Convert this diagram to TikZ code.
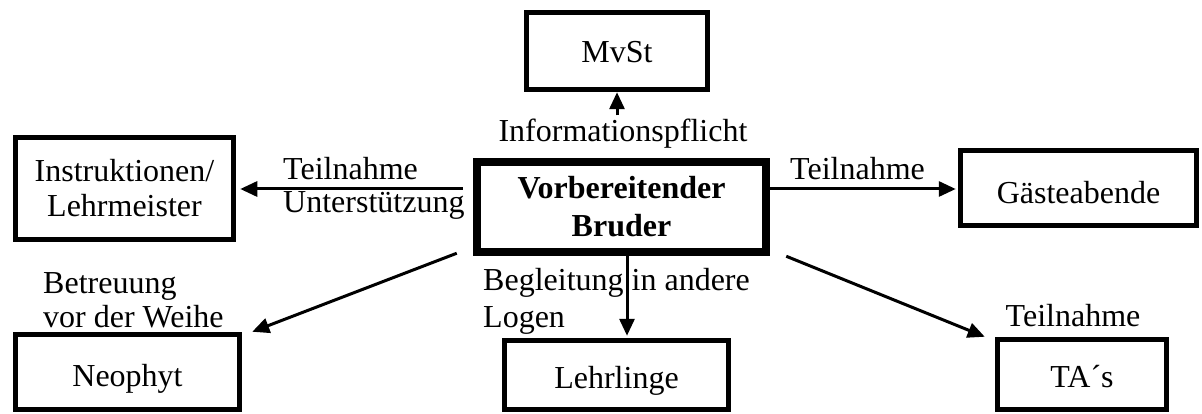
\documentclass[tikz,border=0pt]{standalone}
\usepackage{fontspec}
\setmainfont{Liberation Serif}
\usetikzlibrary{arrows.meta}
\begin{document}
\begin{tikzpicture}[x=1pt,y=-1pt,
  box/.style={draw, line width=5.5pt, inner sep=0pt, align=center,
              font=\fontsize{32}{35}\selectfont},
  mainbox/.style={box, line width=8.5pt, font=\fontsize{32}{38}\selectfont\bfseries},
  txt/.style={text height=#1, text depth=0pt},
  lbl/.style={inner sep=0pt, align=left, font=\fontsize{32}{34}\selectfont},
  arr/.style={line width=3pt, -{Triangle[length=17pt,width=15pt]}}]
\useasboundingbox (0,0) rectangle (1202,414);
\fill[white] (0,0) rectangle (1202,414);

% boxes
\node[mainbox, minimum width=289pt, minimum height=90pt] (vb) at (621.5,207) {Vorbereitender\\Bruder};
\node[box, txt=23pt, minimum width=181pt, minimum height=77pt] (mvst) at (617,51) {MvSt};
\node[box, minimum width=218pt, minimum height=102pt] (instr) at (124.5,188.5) {Instruktionen/\\Lehrmeister};
\node[box, txt=31pt, minimum width=236pt, minimum height=75pt] (gaeste) at (1078.5,188) {Gästeabende};
\node[box, txt=29pt, minimum width=224pt, minimum height=75pt] (neo) at (127.5,372) {Neophyt};
\node[box, txt=27pt, minimum width=224pt, minimum height=69pt] (lehr) at (616.5,375) {Lehrlinge};
\node[box, txt=25pt, minimum width=169pt, minimum height=70pt] (tas) at (1082,374.5) {TA´s};

% labels (multi-line labels are placed by the baseline of their last line)
\node[lbl, anchor=base] (infl) at (623,142) {Informationspflicht};
\node[lbl, anchor=base west, font=\fontsize{32}{33}\selectfont] (tu) at (283,213) {Teilnahme\\Unterstützung};
\node[lbl, anchor=base west] (tg) at (790,180) {Teilnahme};
\node[lbl, anchor=base west, font=\fontsize{32}{34}\selectfont] (bw) at (43,327) {Betreuung\\vor der Weihe};
\node[lbl, anchor=base west, font=\fontsize{32}{37}\selectfont] (bl) at (483,327) {Begleitung in andere\\Logen};
\node[lbl, anchor=base] (tt) at (1073,326) {Teilnahme};

% connectors
\coordinate (ia) at (mvst.south |- infl.north);
\draw[arr] ([yshift=4pt]ia) -- (mvst.south);

\coordinate (la) at ([xshift=-10pt,yshift=18pt]vb.west);
\draw[arr, shorten >=4pt] (la) -- (la -| instr.east);

\coordinate (ra) at ([yshift=18pt]vb.east);
\draw[arr, shorten >=2pt] (ra) -- (ra -| gaeste.west);

\draw[arr] ([xshift=-16pt,yshift=3pt]vb.south west) -- ([xshift=10pt]neo.north east);

\coordinate (da) at ([xshift=5.5pt]vb.south);
\draw[arr, shorten >=2pt] (da) -- (da |- lehr.north);

\draw[arr] ([xshift=16pt]vb.south east) -- ([xshift=-10pt]tas.north west);
\end{tikzpicture}
\end{document}
